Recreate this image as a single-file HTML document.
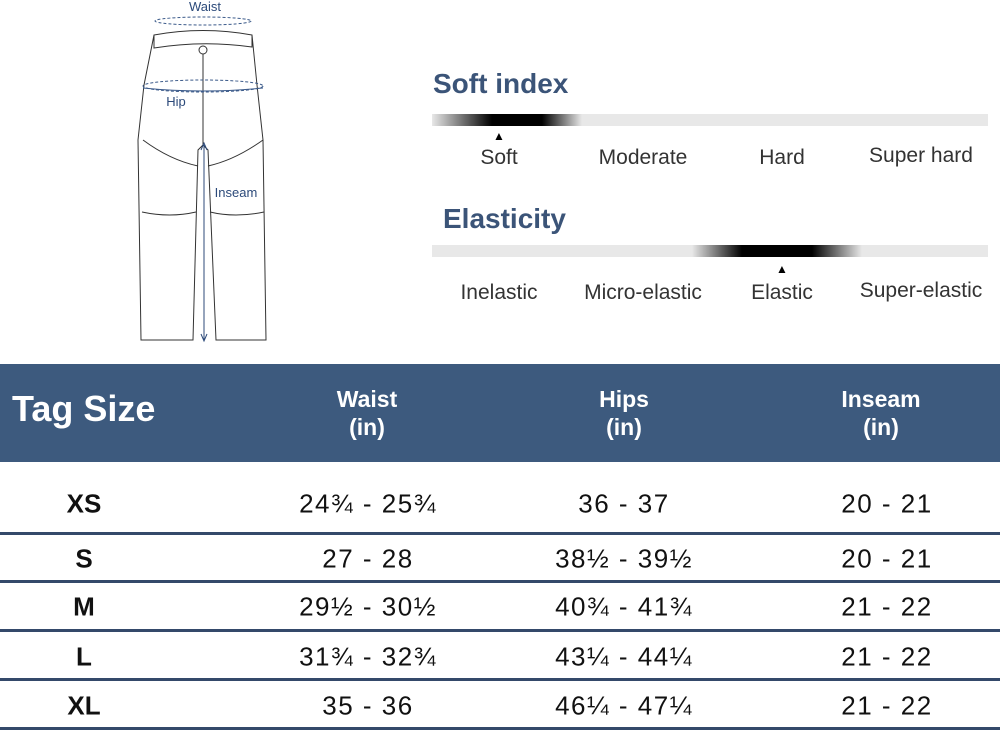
<!DOCTYPE html>
<html><head><meta charset="utf-8"><style>
body{margin:0;width:1000px;height:730px;background:#fff;position:relative;overflow:hidden;font-family:"Liberation Sans",sans-serif}
.a{position:absolute;white-space:nowrap}
.t{color:#333;font-size:21px;transform:translateX(-50%)}
.h{color:#3b5478;font-weight:bold;font-size:28px}
.bar{position:absolute;height:12px;left:432px;width:556px;background:#e8e8e8}
.hdr{position:absolute;left:0;top:364px;width:1000px;height:98px;background:#3d5a7e}
.hc{position:absolute;color:#fff;font-weight:bold;font-size:23px;text-align:center;line-height:28px;transform:translateX(-50%);top:385px}
.sep{position:absolute;left:0;width:1000px;height:3px;background:#34496a}
.c{position:absolute;font-size:26px;color:#111;transform:translate(-50%,-50%);white-space:nowrap;letter-spacing:1.5px}
.b{font-weight:bold;letter-spacing:0}
</style></head><body>
<svg class="a" style="left:130px;top:0" width="150" height="350" viewBox="0 0 150 350" fill="none" stroke="#333" stroke-width="1">
<text x="75" y="11" font-size="13" fill="#2c4a7a" stroke="none" text-anchor="middle" font-family="Liberation Sans">Waist</text>
<ellipse cx="73" cy="21" rx="48" ry="4" stroke="#3b5a8a" stroke-dasharray="3,2"/>
<path d="M24 35 Q73 26 122 35 L122 47 Q73 40 24 48 Z"/>
<path d="M24 35 L14 85 L8 140 L11 340 L63 340 L68 150 L73 145 L78 150 L86 340 L136 340 L133 140 L127 85 L122 35"/>
<circle cx="73" cy="50" r="4"/>
<line x1="73" y1="54" x2="73" y2="145"/>
<ellipse cx="73" cy="86" rx="60" ry="6" stroke="#3b5a8a" stroke-dasharray="3,2"/>
<path d="M13 88 Q73 94 133 88" stroke="#3b5a8a"/>
<text x="46" y="106" font-size="13" fill="#2c4a7a" stroke="none" text-anchor="middle" font-family="Liberation Sans">Hip</text>
<path d="M13 140 Q40 160 68 166 M133 140 Q105 160 78 166"/>
<path d="M12 212 Q40 218 66 212 M80 212 Q105 218 134 212"/>
<line x1="74" y1="145" x2="74" y2="340" stroke="#2c4a7a"/>
<path d="M71 150 L74 143 L77 150 M71 334 L74 341 L77 334" stroke="#2c4a7a"/>
<text x="106" y="197" font-size="13" fill="#2c4a7a" stroke="none" text-anchor="middle" font-family="Liberation Sans">Inseam</text>
</svg>
<div class="a h" style="left:433px;top:68px">Soft index</div>
<div class="bar" style="top:114px;background:linear-gradient(90deg,#e8e8e8 0,#000 60px,#000 110px,#e8e8e8 150px,#e8e8e8 100%)"></div>
<div class="a" style="left:493px;top:129px;font-size:12px">▲</div>
<div class="a t" style="left:499px;top:146px">Soft</div>
<div class="a t" style="left:643px;top:146px">Moderate</div>
<div class="a t" style="left:782px;top:146px">Hard</div>
<div class="a t" style="left:921px;top:144px">Super hard</div>
<div class="a h" style="left:443px;top:203px">Elasticity</div>
<div class="bar" style="top:245px;background:linear-gradient(90deg,#e8e8e8 0,#e8e8e8 260px,#000 310px,#000 380px,#e8e8e8 430px,#e8e8e8 100%)"></div>
<div class="a" style="left:776px;top:262px;font-size:12px">▲</div>
<div class="a t" style="left:499px;top:281px">Inelastic</div>
<div class="a t" style="left:643px;top:281px">Micro-elastic</div>
<div class="a t" style="left:782px;top:281px">Elastic</div>
<div class="a t" style="left:921px;top:279px">Super-elastic</div>
<div class="hdr"></div>
<div class="a" style="left:12px;top:388px;color:#fff;font-weight:bold;font-size:36px">Tag Size</div>
<div class="hc" style="left:367px">Waist<br>(in)</div>
<div class="hc" style="left:624px">Hips<br>(in)</div>
<div class="hc" style="left:881px">Inseam<br>(in)</div>
<div class="sep" style="top:532px"></div>
<div class="sep" style="top:580px"></div>
<div class="sep" style="top:629px"></div>
<div class="sep" style="top:678px"></div>
<div class="sep" style="top:727px"></div>
<div class="c b" style="left:84px;top:504px">XS</div><div class="c" style="left:368px;top:504px">24¾ - 25¾</div><div class="c" style="left:624px;top:504px">36 - 37</div><div class="c" style="left:887px;top:504px">20 - 21</div>
<div class="c b" style="left:84px;top:559px">S</div><div class="c" style="left:368px;top:559px">27 - 28</div><div class="c" style="left:624px;top:559px">38½ - 39½</div><div class="c" style="left:887px;top:559px">20 - 21</div>
<div class="c b" style="left:84px;top:607px">M</div><div class="c" style="left:368px;top:607px">29½ - 30½</div><div class="c" style="left:624px;top:607px">40¾ - 41¾</div><div class="c" style="left:887px;top:607px">21 - 22</div>
<div class="c b" style="left:84px;top:657px">L</div><div class="c" style="left:368px;top:657px">31¾ - 32¾</div><div class="c" style="left:624px;top:657px">43¼ - 44¼</div><div class="c" style="left:887px;top:657px">21 - 22</div>
<div class="c b" style="left:84px;top:706px">XL</div><div class="c" style="left:368px;top:706px">35 - 36</div><div class="c" style="left:624px;top:706px">46¼ - 47¼</div><div class="c" style="left:887px;top:706px">21 - 22</div>
</body></html>
